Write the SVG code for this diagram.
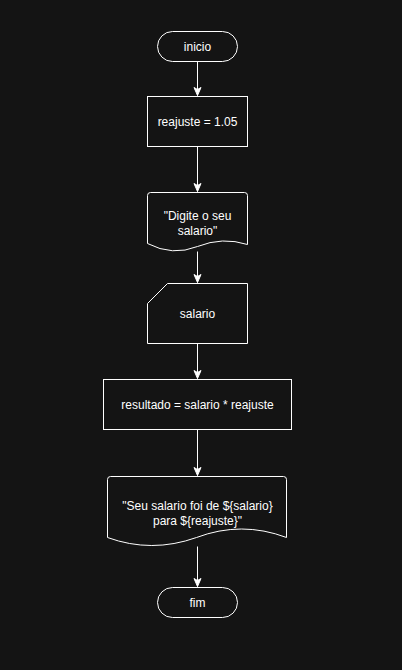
<svg xmlns="http://www.w3.org/2000/svg" width="402" height="670" viewBox="0 0 402 670">
<style>
.s{fill:#141414;stroke:#ffffff;stroke-width:1}
.t{fill:#ffffff;font-family:"Liberation Sans",Arial,sans-serif;font-size:12px;text-anchor:middle;dominant-baseline:central}
.c{stroke:#ffffff;stroke-width:1;fill:none}
</style>
<defs>
<marker id="a" markerWidth="10" markerHeight="10" refX="9" refY="5" orient="auto" markerUnits="userSpaceOnUse">
<path d="M1,1.5 L9,5 L1,8.5 L3,5 Z" fill="#ffffff" stroke="#ffffff" stroke-width="1"/>
</marker>
</defs>
<rect width="402" height="670" fill="#141414"/>
<g transform="translate(0.5,0.5)">
<g id="connectors">
<path class="c" d="M197,61 L197,95" marker-end="url(#a)"/>
<path class="c" d="M197,146 L197,191" marker-end="url(#a)"/>
<path class="c" d="M197,251 L197,282" marker-end="url(#a)"/>
<path class="c" d="M197,343 L197,378" marker-end="url(#a)"/>
<path class="c" d="M197,429 L197,475" marker-end="url(#a)"/>
<path class="c" d="M197,546 L197,586" marker-end="url(#a)"/>
</g>
<g id="inicio">
<rect class="s" x="157" y="31" width="80" height="30" rx="15" ry="15"/>
<text class="t" x="197" y="46">inicio</text>
</g>
<g id="reajuste">
<rect class="s" x="147" y="96" width="100" height="50"/>
<text class="t" x="197" y="121">reajuste = 1.05</text>
</g>
<g id="digite">
<path class="s" d="M150,192 L244,192 Q247,192 247,195 L247,244 Q222,236 197,246 Q172,256 147,243 L147,195 Q147,192 150,192 Z"/>
<text class="t" x="197" y="215">"Digite o seu</text>
<text class="t" x="197" y="230">salario"</text>
</g>
<g id="salario">
<path class="s" d="M167,283 L247,283 L247,343 L147,343 L147,303 Z"/>
<text class="t" x="197" y="313">salario</text>
</g>
<g id="resultado">
<rect class="s" x="103" y="379" width="188" height="50"/>
<text class="t" x="197" y="404">resultado = salario * reajuste</text>
</g>
<g id="saida">
<path class="s" d="M110,476 L283,476 Q286,476 286,479 L286,537 Q241,520 196,537 Q151,553 107,537 L107,479 Q107,476 110,476 Z"/>
<text class="t" x="197" y="505">"Seu salario foi de ${salario}</text>
<text class="t" x="197" y="520">para ${reajuste}"</text>
</g>
<g id="fim">
<rect class="s" x="157" y="587" width="80" height="30" rx="15" ry="15"/>
<text class="t" x="197" y="602">fim</text>
</g>
</g>
</svg>
